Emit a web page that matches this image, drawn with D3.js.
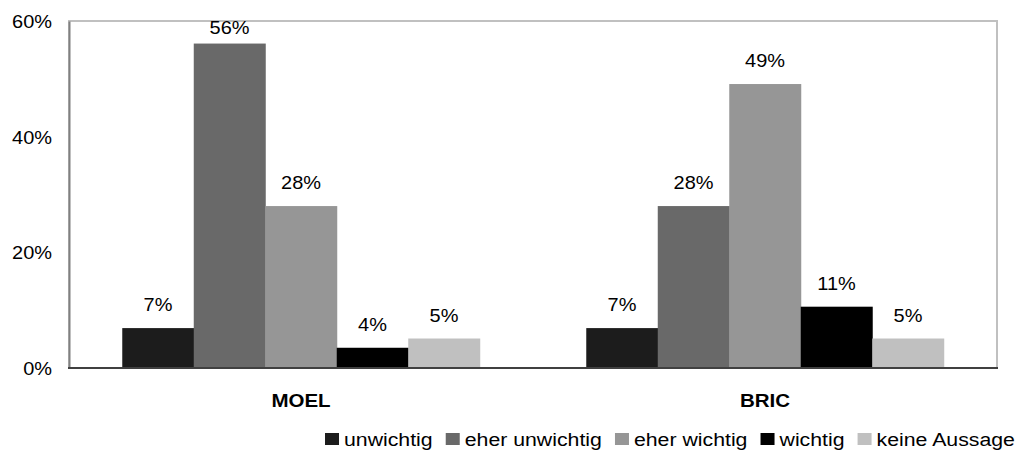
<!DOCTYPE html>
<html>
<head>
<meta charset="utf-8">
<script src="https://cdn.jsdelivr.net/npm/d3@7"></script>
<style>
  body { margin: 0; background: #fff; }
  text { font-family: "Liberation Sans", Arial, sans-serif; fill: #000; }
</style>
</head>
<body>
<div class="chart"></div>
<script>
const groups = ["MOEL", "BRIC"];
const series = ["unwichtig", "eher unwichtig", "eher wichtig", "wichtig", "keine Aussage"];
const moelValues = [6.9, 56.1, 28.0, 3.5, 5.1];
const bricValues = [6.9, 28.0, 49.1, 10.6, 5.1];
const yTicks = [0, 20, 40, 60];
const colors = ["#1c1c1c", "#696969", "#969696", "#000000", "#c0c0c0"];

const width = 1018, height = 450;
const margin = { top: 21, right: 21, bottom: 82, left: 69 };
const fontSize = "19px";
const stretch = 1.05;      // labels in the picture are a bit wide
const legendStretch = 1.12;

const data = groups.map((g, i) => ({
    group: g,
    values: (i === 0 ? moelValues : bricValues).map((v, j) => ({ key: series[j], value: v }))
}));

const svg = d3.select(".chart").append("svg")
    .attr("width", width)
    .attr("height", height);

const x0 = d3.scaleBand()
    .domain(groups)
    .range([margin.left, width - margin.right])
    .paddingInner(0);

const x1 = d3.scaleBand()
    .domain(series)
    .range([0, x0.bandwidth()])
    .paddingInner(0)
    .paddingOuter(0.745);

const y = d3.scaleLinear()
    .domain([0, 60])
    .range([height - margin.bottom, margin.top]);

const color = d3.scaleOrdinal().domain(series).range(colors);
const fmt = v => `${Math.round(v)}%`;

function wideText(sel, x, y, s) {
    return sel.attr("transform", (d, i) => `translate(${x(d, i)},${y(d, i)}) scale(${s || stretch},1)`);
}

// plot frame
svg.append("rect")
    .attr("x", margin.left)
    .attr("y", margin.top)
    .attr("width", width - margin.left - margin.right)
    .attr("height", height - margin.top - margin.bottom)
    .attr("fill", "none")
    .attr("stroke", "#c0c0c0")
    .attr("stroke-width", 2);

// bars
const grp = svg.append("g").selectAll("g")
    .data(data)
    .join("g")
    .attr("transform", d => `translate(${x0(d.group)},0)`);

grp.selectAll("rect")
    .data(d => d.values)
    .join("rect")
    .attr("x", d => x1(d.key))
    .attr("y", d => y(d.value))
    .attr("width", x1.bandwidth() + 0.5)
    .attr("height", d => y(0) - y(d.value))
    .attr("fill", d => color(d.key));

grp.selectAll("text")
    .data(d => d.values)
    .join("text")
    .style("font-size", fontSize)
    .attr("text-anchor", "middle")
    .call(wideText, d => x1(d.key) + x1.bandwidth() / 2, d => Math.max(y(d.value) - 17, margin.top + 13))
    .text(d => fmt(d.value));

// y axis
const yAxis = svg.append("g")
    .attr("transform", `translate(${margin.left},0)`)
    .call(d3.axisLeft(y).tickValues(yTicks).tickSize(0).tickPadding(0).tickFormat(d => d + "%"));
yAxis.select(".domain").attr("stroke", "#808080").attr("stroke-width", 2);
yAxis.selectAll(".tick text")
    .style("font-size", fontSize)
    .attr("text-anchor", "end")
    .attr("x", null)
    .attr("dy", "0.35em")
    .attr("transform", `translate(-17,0) scale(${stretch},1)`);

// x axis baseline
svg.append("line")
    .attr("x1", margin.left - 1)
    .attr("x2", width - margin.right + 1)
    .attr("y1", y(0))
    .attr("y2", y(0))
    .attr("stroke", "#404040")
    .attr("stroke-width", 2);

// group labels
svg.append("g").selectAll("text")
    .data(groups)
    .join("text")
    .style("font-size", fontSize)
    .style("font-weight", "bold")
    .attr("text-anchor", "middle")
    .call(wideText, d => x0(d) + x0.bandwidth() / 2, () => 407, 1.08)
    .text(d => d);

// legend, right aligned
const legend = svg.append("g");
const items = legend.selectAll("g")
    .data(series)
    .join("g");

items.append("rect")
    .attr("y", 433)
    .attr("width", 14)
    .attr("height", 12)
    .attr("fill", d => color(d));

const labels = items.append("text")
    .style("font-size", fontSize)
    .text(d => d);

const widths = [];
labels.each(function () { widths.push(this.getComputedTextLength() * legendStretch); });
const gapBox = 5, gapItem = 13;
const total = d3.sum(widths) + series.length * (14 + gapBox) + (series.length - 1) * gapItem;
let cx = 1015 - total;
items.each(function (d, i) {
    d3.select(this).attr("transform", `translate(${cx},0)`);
    cx += 14 + gapBox + widths[i] + gapItem;
});
labels.attr("transform", `translate(${14 + gapBox},446) scale(${legendStretch},1)`);
</script>
</body>
</html>
